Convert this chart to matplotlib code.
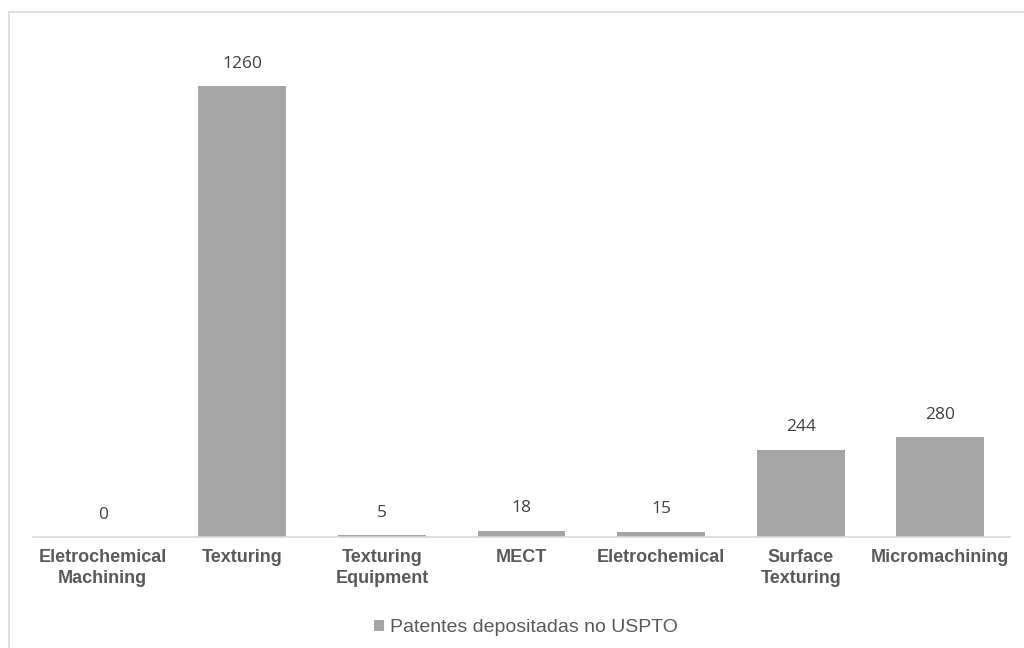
import matplotlib
matplotlib.use("Agg")
import matplotlib.pyplot as plt
from matplotlib.patches import Rectangle, Patch

categories = ["Eletrochemical\nMachining", "Texturing", "Texturing\nEquipment",
              "MECT", "Eletrochemical", "Surface\nTexturing", "Micromachining"]
patents = [0, 1260, 5, 18, 15, 244, 280]
series_name = "Patentes depositadas no USPTO"

bar_color = "#a5a5a5"
label_color = "#404040"
tick_color = "#595959"

fig = plt.figure(figsize=(10.24, 6.48), dpi=100)
fig.patch.set_facecolor("white")

# light chart-area frame
fig.add_artist(Rectangle((9 / 1024, -0.01), 1.02, (648 - 12) / 648 + 0.01,
                         transform=fig.transFigure, fill=False,
                         edgecolor="#d9d9d9", linewidth=1.2))

ax = fig.add_axes([33 / 1024, 111 / 648, 977 / 1024, 501 / 648])
x = range(len(categories))
bars = ax.bar(x, patents, width=0.63, color=bar_color, zorder=2)

ax.set_xlim(-0.5, len(categories) - 0.5)
ax.set_ylim(0, 1400)
for side in ("top", "right", "left"):
    ax.spines[side].set_visible(False)
ax.spines["bottom"].set_color("#d9d9d9")
ax.spines["bottom"].set_linewidth(1.2)
ax.set_yticks([])
ax.set_xticks(list(x))
ax.set_xticklabels(categories, fontfamily="Liberation Sans", fontweight="bold",
                   fontsize=13, color=tick_color, linespacing=1.3)
ax.tick_params(axis="x", length=0, pad=9)

for rect, v in zip(bars, patents):
    ax.annotate(f"{v}", (rect.get_x() + rect.get_width() / 2, v),
                xytext=(0, 16), textcoords="offset points",
                ha="center", va="center", fontsize=12.5,
                fontfamily="Open Sans", color=label_color)

fig.legend(handles=[Patch(facecolor=bar_color, edgecolor="none", label=series_name)],
           loc="center", bbox_to_anchor=(526 / 1024, 1 - 628 / 648),
           frameon=False, handlelength=0.55, handleheight=0.55, handletextpad=0.3,
           prop={"family": "Liberation Sans", "size": 14},
           labelcolor=tick_color)

fig.savefig("out.png", dpi=100)
